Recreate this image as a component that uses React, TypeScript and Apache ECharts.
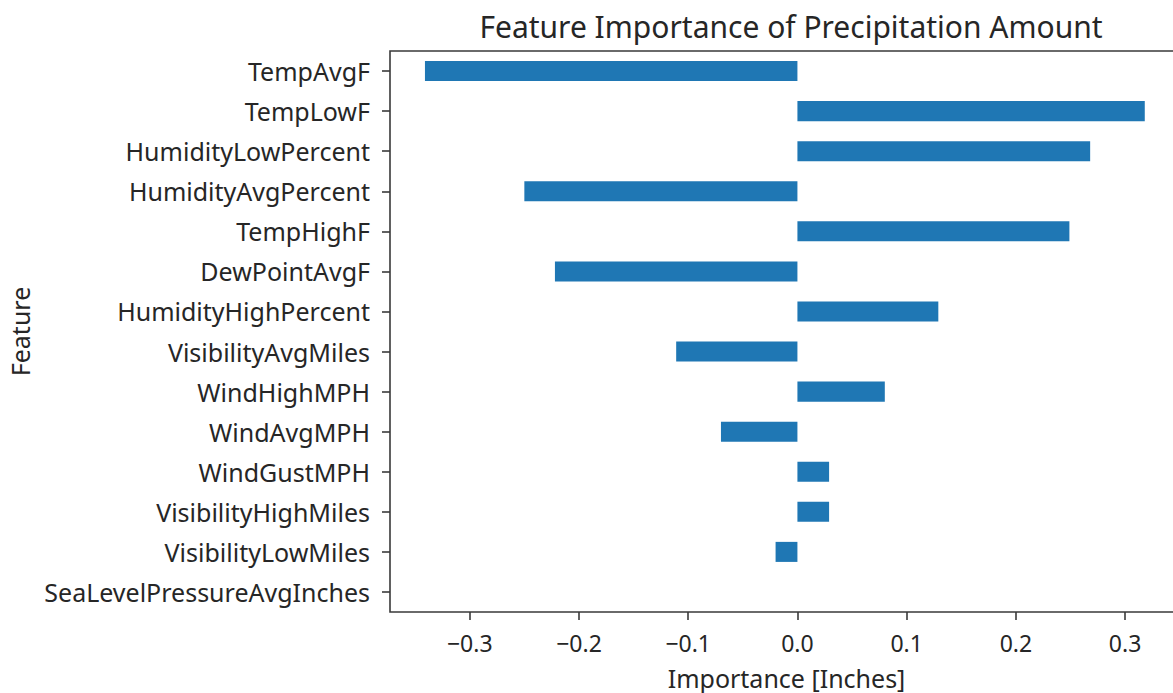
import React, { useEffect, useRef } from "react";
import * as echarts from "echarts";

const features = [
  "TempAvgF",
  "TempLowF",
  "HumidityLowPercent",
  "HumidityAvgPercent",
  "TempHighF",
  "DewPointAvgF",
  "HumidityHighPercent",
  "VisibilityAvgMiles",
  "WindHighMPH",
  "WindAvgMPH",
  "WindGustMPH",
  "VisibilityHighMiles",
  "VisibilityLowMiles",
  "SeaLevelPressureAvgInches",
];
const importance = [
  -0.341, 0.318, 0.268, -0.25, 0.249, -0.222, 0.129, -0.111, 0.08, -0.07, 0.029, 0.029, -0.02, 0,
];
const xTicks = [-0.3, -0.2, -0.1, 0, 0.1, 0.2, 0.3];

const FONT = "Noto Sans";
const TEXT = "#262626";

export default function App() {
  const ref = useRef<HTMLDivElement>(null);
  useEffect(() => {
    if (!ref.current) return;
    const chart = echarts.init(ref.current, undefined, { renderer: "svg" });
    chart.setOption({
      animation: false,
      backgroundColor: "#ffffff",
      title: {
        text: "Feature Importance of Precipitation Amount",
        left: 786,
        textAlign: "center",
        top: 6,
        textStyle: { fontFamily: FONT, fontSize: 30, fontWeight: "normal", color: TEXT },
      },
      grid: {
        left: 390,
        right: -10,
        top: 51,
        bottom: 81,
        outerBoundsMode: "none",
        containLabel: false,
        show: true,
        borderColor: "#3a3a3a",
        borderWidth: 1.6,
        backgroundColor: "transparent",
      },
      xAxis: {
        type: "value",
        min: -0.373,
        max: 0.353,
        name: "Importance [Inches]",
        nameLocation: "middle",
        nameGap: 53,
        nameTextStyle: { fontFamily: FONT, fontSize: 25, color: TEXT },
        splitLine: { show: false },
        axisLine: { show: false, onZero: false },
        axisTick: {
          show: true,
          customValues: xTicks,
          length: 8,
          lineStyle: { color: "#3a3a3a", width: 1.6 },
        },
        axisLabel: {
          customValues: xTicks,
          margin: 19,
          fontFamily: FONT,
          fontSize: 23,
          color: TEXT,
          formatter: (v: number) => v.toFixed(1).replace("-", "\u2212"),
        },
      },
      yAxis: {
        type: "category",
        data: features,
        inverse: true,
        name: "Feature",
        nameLocation: "middle",
        nameGap: 358,
        nameRotate: 90,
        nameTextStyle: { fontFamily: FONT, fontSize: 25, color: TEXT },
        axisLine: { show: false, onZero: false },
        axisTick: {
          show: true,
          alignWithLabel: true,
          length: 8,
          lineStyle: { color: "#3a3a3a", width: 1.6 },
        },
        axisLabel: { margin: 20, fontFamily: FONT, fontSize: 25, color: TEXT },
      },
      series: [
        {
          type: "bar",
          data: importance,
          barWidth: "50%",
          itemStyle: { color: "#1f77b4" },
        },
      ],
    });
    return () => chart.dispose();
  }, []);
  return (
    <div
      ref={ref}
      style={{ position: "fixed", left: 0, top: 0, width: 1173, height: 693, background: "#fff" }}
    />
  );
}
